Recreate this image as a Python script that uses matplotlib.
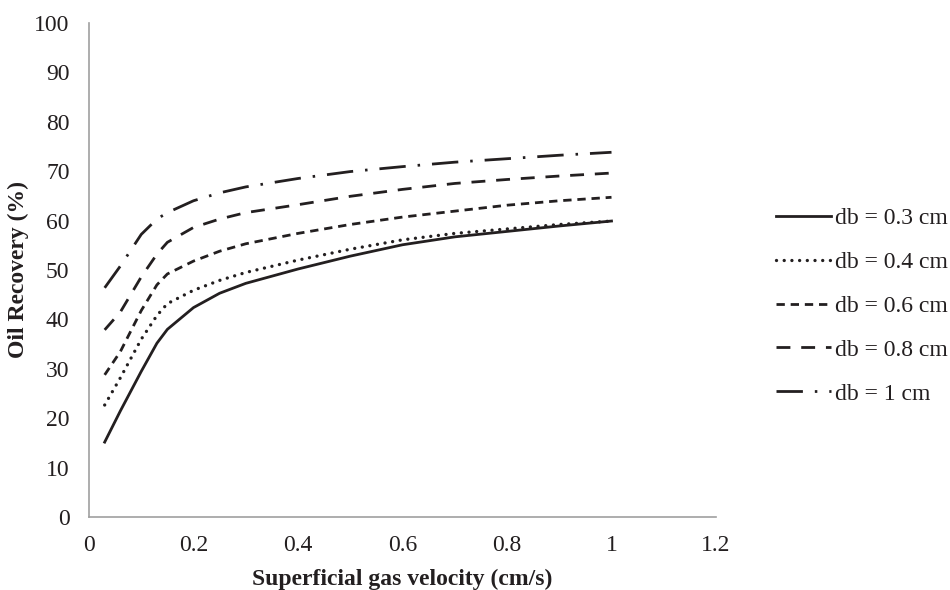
import matplotlib
matplotlib.use("Agg")
import matplotlib.pyplot as plt

# ---- data ----
x = [0.03, 0.06, 0.10, 0.13, 0.15, 0.20, 0.25, 0.30, 0.40, 0.50, 0.60, 0.70, 0.80, 0.90, 1.00]
db_03 = [15.2, 21.5, 29.5, 35.2, 38.0, 42.4, 45.3, 47.3, 50.2, 52.8, 55.1, 56.7, 57.8, 58.9, 59.9]
db_04 = [22.7, 28.2, 36.0, 40.8, 43.2, 45.9, 47.9, 49.5, 52.0, 54.2, 56.1, 57.4, 58.3, 59.2, 59.9]
db_06 = [28.8, 33.5, 41.8, 47.0, 49.2, 51.8, 53.8, 55.3, 57.4, 59.2, 60.7, 61.9, 63.1, 64.0, 64.7]
db_08 = [37.9, 41.5, 48.6, 53.2, 55.6, 58.6, 60.3, 61.6, 63.2, 64.9, 66.3, 67.5, 68.3, 69.0, 69.6]
db_10 = [46.4, 50.8, 57.2, 60.3, 61.6, 64.0, 65.6, 66.8, 68.5, 69.9, 70.9, 71.8, 72.5, 73.2, 73.8]
labels = ["db = 0.3 cm", "db = 0.4 cm", "db = 0.6 cm", "db = 0.8 cm", "db = 1 cm"]
x_ticks = [0, 0.2, 0.4, 0.6, 0.8, 1, 1.2]
x_ticklabels = ["0", "0.2", "0.4", "0.6", "0.8", "1", "1.2"]
y_ticks = [0, 10, 20, 30, 40, 50, 60, 70, 80, 90, 100]

plt.rcParams['font.family'] = ['Liberation Serif', 'DejaVu Serif']

fig = plt.figure(figsize=(9.5, 5.9), dpi=100)
ax = fig.add_axes([89/950, 1-517.3/590, (716-89)/950, (517.3-22.7)/590])

col = '#231F20'
lw = 2.0
styles = [
    dict(linestyle='-', lw=lw),
    dict(linestyle=(0, (0.01, 2.3)), dash_capstyle='round', lw=2.4),
    dict(linestyle=(0, (3.0, 2.1)), dash_capstyle='butt', lw=lw),
    dict(linestyle=(0, (5.0, 3.9)), dash_capstyle='butt', lw=lw),
    dict(linestyle=(0, (9.5, 4.3, 0.9, 4.3)), dash_capstyle='butt', lw=lw),
]
series = [db_03, db_04, db_06, db_08, db_10]
for ys, lab, st in zip(series, labels, styles):
    ax.plot(x, ys, color=col, label=lab, **st)

fs = 17
ax.set_xlim(0, 1.2)
ax.set_ylim(0, 100)
ax.set_xticks(x_ticks)
ax.set_xticklabels(x_ticklabels)
ax.set_yticks(y_ticks)
ax.tick_params(axis='both', length=0, labelsize=fs, colors='#231F20')
ax.tick_params(axis='y', pad=14)
ax.tick_params(axis='x', pad=13)
for s in ['top', 'right']:
    ax.spines[s].set_visible(False)
for s in ['left', 'bottom']:
    ax.spines[s].set_color('#A0A0A0')
    ax.spines[s].set_linewidth(1.2)

ax.set_xlabel("Superficial gas velocity (cm/s)", fontsize=fs, fontweight='bold', labelpad=9,
              color='#231F20')
ax.set_ylabel("Oil Recovery (%)", fontsize=fs, fontweight='bold', labelpad=4, color='#231F20')

leg = fig.legend(loc='center left', bbox_to_anchor=(776/950, 1-306/590), frameon=False,
                 fontsize=fs, handlelength=2.35, handletextpad=0.15, labelspacing=0.95,
                 borderaxespad=0, borderpad=0)
for t in leg.get_texts():
    t.set_color('#231F20')

fig.savefig("out.png", dpi=100)
